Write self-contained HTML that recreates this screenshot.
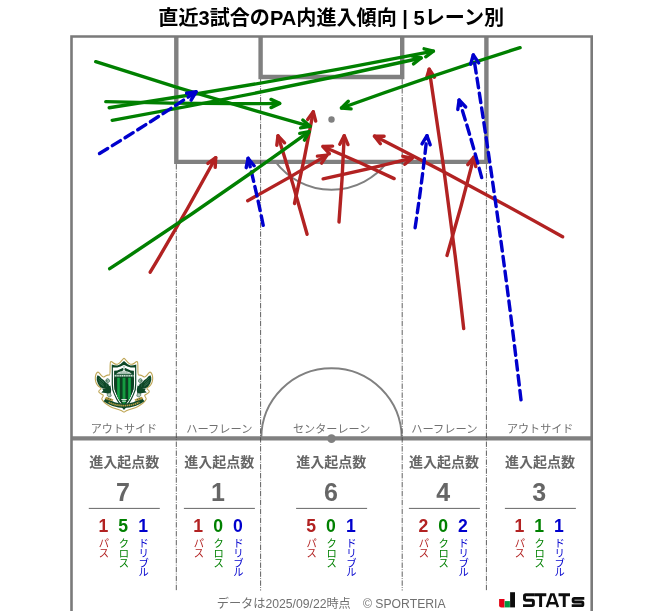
<!DOCTYPE html>
<html lang="ja"><head><meta charset="utf-8"><title>直近3試合のPA内進入傾向 | 5レーン別</title>
<style>
html,body{margin:0;padding:0;background:#fff;}
body{width:663px;height:611px;overflow:hidden;font-family:"Liberation Sans","Noto Sans CJK JP",sans-serif;}
svg{display:block}
svg text{font-family:"Liberation Sans","Noto Sans CJK JP",sans-serif;}
</style></head><body>
<svg width="663" height="611" viewBox="0 0 663 611">
<defs>
<filter id="soft" x="0" y="0" width="100%" height="100%" filterUnits="userSpaceOnUse"><feGaussianBlur stdDeviation="0.55"/></filter>
</defs>
<g filter="url(#soft)">
<rect width="663" height="611" fill="#fff"/>
<g fill="none" stroke="#808080" stroke-width="1.9">
<path d="M275.55,161.9 A70.2,70.2 0 0 0 387.45,161.9"/>
<path d="M261.30,438.4 A70.2,70.2 0 0 1 401.70,438.4"/>
</g>
<g fill="none" stroke="#808080" stroke-width="4.4" stroke-linejoin="miter">
<path d="M176.3,36.5 V161.9 H486.4 V36.5"/>
<path d="M260.6,36.5 V77.0 H402.2 V36.5"/>
<path d="M71.5,438.4 H591.7"/>
</g>
<path d="M71.5,616 V36.5 H591.7 V616" fill="none" stroke="#7a7a7a" stroke-width="2.6" stroke-linejoin="miter"/>
<circle cx="331.5" cy="119.5" r="3.2" fill="#808080"/>
<circle cx="331.5" cy="438.59999999999997" r="4.3" fill="#808080"/>
<g stroke="#444" stroke-width="0.85" stroke-dasharray="5.4 1.35 0.85 1.35" fill="none">
<path d="M176.3,164.1 V590.5"/>
<path d="M260.6,79.2 V590.5"/>
<path d="M402.2,79.2 V590.5"/>
<path d="M486.4,164.1 V590.5"/>
</g>
<g stroke="#b22222" stroke-width="3.4" fill="none" stroke-linecap="round" stroke-linejoin="round"><path d="M150.2,272.2 Q184.2,215.7 215.7,157.7"/><path d="M215.2,167.3 L215.7,157.7 L207.9,163.4"/></g>
<g stroke="#b22222" stroke-width="3.4" fill="none" stroke-linecap="round" stroke-linejoin="round"><path d="M247.7,200.7 Q287.9,178.8 327.0,155.1"/><path d="M321.6,163.1 L327.0,155.1 L317.4,156.1"/></g>
<g stroke="#b22222" stroke-width="3.4" fill="none" stroke-linecap="round" stroke-linejoin="round"><path d="M294.5,203.5 Q304.9,157.9 313.3,111.8"/><path d="M315.7,121.1 L313.3,111.8 L307.7,119.6"/></g>
<g stroke="#b22222" stroke-width="3.4" fill="none" stroke-linecap="round" stroke-linejoin="round"><path d="M307.1,234.3 Q293.6,184.7 278.0,135.8"/><path d="M284.6,142.8 L278.0,135.8 L276.8,145.3"/></g>
<g stroke="#b22222" stroke-width="3.4" fill="none" stroke-linecap="round" stroke-linejoin="round"><path d="M323.1,178.8 Q367.9,169.5 412.2,158.2"/><path d="M404.8,164.3 L412.2,158.2 L402.8,156.3"/></g>
<g stroke="#b22222" stroke-width="3.4" fill="none" stroke-linecap="round" stroke-linejoin="round"><path d="M339.0,222.0 Q342.5,178.9 344.2,135.7"/><path d="M348.0,144.6 L344.2,135.7 L339.8,144.2"/></g>
<g stroke="#b22222" stroke-width="3.4" fill="none" stroke-linecap="round" stroke-linejoin="round"><path d="M394.2,178.6 Q359.0,161.8 323.0,146.5"/><path d="M332.6,146.1 L323.0,146.5 L329.4,153.7"/></g>
<g stroke="#b22222" stroke-width="3.4" fill="none" stroke-linecap="round" stroke-linejoin="round"><path d="M463.7,328.6 Q449.3,198.5 429.2,69.2"/><path d="M434.5,77.2 L429.2,69.2 L426.4,78.4"/></g>
<g stroke="#b22222" stroke-width="3.4" fill="none" stroke-linecap="round" stroke-linejoin="round"><path d="M447.0,255.4 Q461.5,206.6 473.9,157.2"/><path d="M475.8,166.6 L473.9,157.2 L467.8,164.6"/></g>
<g stroke="#b22222" stroke-width="3.4" fill="none" stroke-linecap="round" stroke-linejoin="round"><path d="M562.6,236.8 Q469.7,184.4 374.5,136.1"/><path d="M384.1,136.3 L374.5,136.1 L380.4,143.7"/></g>
<g stroke="#0000cd" stroke-width="3.4" fill="none" stroke-linecap="round" stroke-linejoin="round"><path d="M263.2,225.3 Q256.4,191.6 248.1,158.3" stroke-dasharray="9.6 5.4"/><path d="M254.1,165.7 L248.1,158.3 L246.2,167.7"/></g>
<g stroke="#008000" stroke-width="3.4" fill="none" stroke-linecap="round" stroke-linejoin="round"><path d="M95.7,61.7 Q202.2,96.4 310.1,126.3"/><path d="M300.6,127.9 L310.1,126.3 L302.8,120.0"/></g>
<g stroke="#008000" stroke-width="3.4" fill="none" stroke-linecap="round" stroke-linejoin="round"><path d="M105.8,101.6 Q192.7,104.4 279.7,103.4"/><path d="M271.0,107.6 L279.7,103.4 L271.0,99.4"/></g>
<g stroke="#008000" stroke-width="3.4" fill="none" stroke-linecap="round" stroke-linejoin="round"><path d="M109.2,107.8 Q271.9,83.0 433.4,51.1"/><path d="M425.7,56.8 L433.4,51.1 L424.1,48.8"/></g>
<g stroke="#008000" stroke-width="3.4" fill="none" stroke-linecap="round" stroke-linejoin="round"><path d="M112.2,120.3 Q267.3,92.5 421.1,58.0"/><path d="M413.5,63.9 L421.1,58.0 L411.7,55.9"/></g>
<g stroke="#008000" stroke-width="3.4" fill="none" stroke-linecap="round" stroke-linejoin="round"><path d="M109.7,268.7 Q210.9,202.4 309.1,131.7"/><path d="M304.4,140.1 L309.1,131.7 L299.7,133.4"/></g>
<g stroke="#008000" stroke-width="3.4" fill="none" stroke-linecap="round" stroke-linejoin="round"><path d="M520.1,47.7 Q430.1,75.9 341.5,108.0"/><path d="M348.3,101.2 L341.5,108.0 L351.1,108.9"/></g>
<g stroke="#0000cd" stroke-width="3.4" fill="none" stroke-linecap="round" stroke-linejoin="round"><path d="M99.5,153.5 Q148.5,123.7 196.1,91.8" stroke-dasharray="9.6 5.4"/><path d="M191.1,100.1 L196.1,91.8 L186.6,93.3"/></g>
<g stroke="#0000cd" stroke-width="3.4" fill="none" stroke-linecap="round" stroke-linejoin="round"><path d="M415.1,227.7 Q422.1,181.8 427.0,135.7" stroke-dasharray="9.6 5.4"/><path d="M430.2,144.8 L427.0,135.7 L422.0,143.9"/></g>
<g stroke="#0000cd" stroke-width="3.4" fill="none" stroke-linecap="round" stroke-linejoin="round"><path d="M481.7,177.6 Q471.3,138.6 459.1,100.0" stroke-dasharray="9.6 5.4"/><path d="M465.7,107.0 L459.1,100.0 L457.8,109.5"/></g>
<g stroke="#0000cd" stroke-width="3.4" fill="none" stroke-linecap="round" stroke-linejoin="round"><path d="M521.0,399.9 Q500.9,226.9 473.3,55.0" stroke-dasharray="9.6 5.4"/><path d="M478.7,62.9 L473.3,55.0 L470.6,64.2"/></g>
<text x="158.3" y="25.0" font-size="20.06" font-weight="bold" fill="#000" textLength="345.8" lengthAdjust="spacingAndGlyphs">直近3試合のPA内進入傾向 | 5レーン別</text>
<text x="90.8" y="432.6" font-size="11.05" fill="#707070" textLength="66.3" lengthAdjust="spacingAndGlyphs">アウトサイド</text>
<text x="89.2" y="467.2" font-size="14" font-weight="bold" fill="#666" textLength="70.0" lengthAdjust="spacingAndGlyphs">進入起点数</text>
<text x="116.1" y="500.5" font-size="25" font-weight="bold" fill="#666">7</text>
<path d="M88.8,508.4 H159.8" stroke="#555" stroke-width="0.9"/>
<text x="98.5" y="532.3" font-size="17.6" font-weight="bold" fill="#b22222">1</text>
<text font-size="10.3" text-anchor="middle" fill="#b22222"><tspan x="103.95" y="547">パ</tspan><tspan x="103.95" y="556.75">ス</tspan></text>
<text x="118.3" y="532.3" font-size="17.6" font-weight="bold" fill="#008000">5</text>
<text font-size="10.3" text-anchor="middle" fill="#008000"><tspan x="123.8" y="547">ク</tspan><tspan x="123.8" y="556.75">ロ</tspan><tspan x="123.8" y="566.5">ス</tspan></text>
<text x="138.2" y="532.3" font-size="17.6" font-weight="bold" fill="#0000cd">1</text>
<text font-size="10.3" text-anchor="middle" fill="#0000cd"><tspan x="143.65" y="547">ド</tspan><tspan x="143.65" y="556.75">リ</tspan><tspan x="143.65" y="566.5">ブ</tspan><tspan x="143.65" y="576.25">ル</tspan></text>
<text x="186.2" y="432.6" font-size="11.05" fill="#707070" textLength="66.3" lengthAdjust="spacingAndGlyphs">ハーフレーン</text>
<text x="184.2" y="467.2" font-size="14" font-weight="bold" fill="#666" textLength="70.0" lengthAdjust="spacingAndGlyphs">進入起点数</text>
<text x="211.0" y="500.5" font-size="25" font-weight="bold" fill="#666">1</text>
<path d="M183.9,508.4 H254.9" stroke="#555" stroke-width="0.9"/>
<text x="193.3" y="532.3" font-size="17.6" font-weight="bold" fill="#b22222">1</text>
<text font-size="10.3" text-anchor="middle" fill="#b22222"><tspan x="198.8" y="547">パ</tspan><tspan x="198.8" y="556.75">ス</tspan></text>
<text x="213.2" y="532.3" font-size="17.6" font-weight="bold" fill="#008000">0</text>
<text font-size="10.3" text-anchor="middle" fill="#008000"><tspan x="218.65" y="547">ク</tspan><tspan x="218.65" y="556.75">ロ</tspan><tspan x="218.65" y="566.5">ス</tspan></text>
<text x="233.0" y="532.3" font-size="17.6" font-weight="bold" fill="#0000cd">0</text>
<text font-size="10.3" text-anchor="middle" fill="#0000cd"><tspan x="238.5" y="547">ド</tspan><tspan x="238.5" y="556.75">リ</tspan><tspan x="238.5" y="566.5">ブ</tspan><tspan x="238.5" y="576.25">ル</tspan></text>
<text x="293.0" y="432.6" font-size="11.05" fill="#707070" textLength="77.3" lengthAdjust="spacingAndGlyphs">センターレーン</text>
<text x="296.2" y="467.2" font-size="14" font-weight="bold" fill="#666" textLength="70.0" lengthAdjust="spacingAndGlyphs">進入起点数</text>
<text x="323.9" y="500.5" font-size="25" font-weight="bold" fill="#666">6</text>
<path d="M296.1,508.4 H367.1" stroke="#555" stroke-width="0.9"/>
<text x="306.3" y="532.3" font-size="17.6" font-weight="bold" fill="#b22222">5</text>
<text font-size="10.3" text-anchor="middle" fill="#b22222"><tspan x="311.75" y="547">パ</tspan><tspan x="311.75" y="556.75">ス</tspan></text>
<text x="326.1" y="532.3" font-size="17.6" font-weight="bold" fill="#008000">0</text>
<text font-size="10.3" text-anchor="middle" fill="#008000"><tspan x="331.6" y="547">ク</tspan><tspan x="331.6" y="556.75">ロ</tspan><tspan x="331.6" y="566.5">ス</tspan></text>
<text x="346.0" y="532.3" font-size="17.6" font-weight="bold" fill="#0000cd">1</text>
<text font-size="10.3" text-anchor="middle" fill="#0000cd"><tspan x="351.45" y="547">ド</tspan><tspan x="351.45" y="556.75">リ</tspan><tspan x="351.45" y="566.5">ブ</tspan><tspan x="351.45" y="576.25">ル</tspan></text>
<text x="411.2" y="432.6" font-size="11.05" fill="#707070" textLength="66.3" lengthAdjust="spacingAndGlyphs">ハーフレーン</text>
<text x="408.9" y="467.2" font-size="14" font-weight="bold" fill="#666" textLength="70.0" lengthAdjust="spacingAndGlyphs">進入起点数</text>
<text x="436.2" y="500.5" font-size="25" font-weight="bold" fill="#666">4</text>
<path d="M408.9,508.4 H479.9" stroke="#555" stroke-width="0.9"/>
<text x="418.4" y="532.3" font-size="17.6" font-weight="bold" fill="#b22222">2</text>
<text font-size="10.3" text-anchor="middle" fill="#b22222"><tspan x="423.85" y="547">パ</tspan><tspan x="423.85" y="556.75">ス</tspan></text>
<text x="438.2" y="532.3" font-size="17.6" font-weight="bold" fill="#008000">0</text>
<text font-size="10.3" text-anchor="middle" fill="#008000"><tspan x="443.7" y="547">ク</tspan><tspan x="443.7" y="556.75">ロ</tspan><tspan x="443.7" y="566.5">ス</tspan></text>
<text x="458.1" y="532.3" font-size="17.6" font-weight="bold" fill="#0000cd">2</text>
<text font-size="10.3" text-anchor="middle" fill="#0000cd"><tspan x="463.55" y="547">ド</tspan><tspan x="463.55" y="556.75">リ</tspan><tspan x="463.55" y="566.5">ブ</tspan><tspan x="463.55" y="576.25">ル</tspan></text>
<text x="507.0" y="432.6" font-size="11.05" fill="#707070" textLength="66.3" lengthAdjust="spacingAndGlyphs">アウトサイド</text>
<text x="505.0" y="467.2" font-size="14" font-weight="bold" fill="#666" textLength="70.0" lengthAdjust="spacingAndGlyphs">進入起点数</text>
<text x="532.2" y="500.5" font-size="25" font-weight="bold" fill="#666">3</text>
<path d="M504.9,508.4 H575.9" stroke="#555" stroke-width="0.9"/>
<text x="514.4" y="532.3" font-size="17.6" font-weight="bold" fill="#b22222">1</text>
<text font-size="10.3" text-anchor="middle" fill="#b22222"><tspan x="519.85" y="547">パ</tspan><tspan x="519.85" y="556.75">ス</tspan></text>
<text x="534.2" y="532.3" font-size="17.6" font-weight="bold" fill="#008000">1</text>
<text font-size="10.3" text-anchor="middle" fill="#008000"><tspan x="539.7" y="547">ク</tspan><tspan x="539.7" y="556.75">ロ</tspan><tspan x="539.7" y="566.5">ス</tspan></text>
<text x="554.1" y="532.3" font-size="17.6" font-weight="bold" fill="#0000cd">1</text>
<text font-size="10.3" text-anchor="middle" fill="#0000cd"><tspan x="559.55" y="547">ド</tspan><tspan x="559.55" y="556.75">リ</tspan><tspan x="559.55" y="566.5">ブ</tspan><tspan x="559.55" y="576.25">ル</tspan></text>
<text x="216.7" y="608.2" font-size="12.3" fill="#707070" textLength="228.9" lengthAdjust="spacingAndGlyphs">データは2025/09/22時点　© SPORTERIA</text>
<g id="jstats">
<path d="M499.1,598.9 H504.5 V607.4 H501.3 Q499.1,607.4 499.1,605.2 Z" fill="#e30613"/>
<rect x="504.7" y="601.1" width="5.2" height="6.3" fill="#00963f"/>
<rect x="510.1" y="592.2" width="4.9" height="15.2" fill="#111"/>
<g fill="none" stroke="#111" stroke-linejoin="miter">
<path d="M534.88,594.70 H525.80 Q524.50,594.70 524.50,596.00 V598.85 Q524.50,600.15 525.80,600.15 H532.10 Q533.40,600.15 533.40,601.45 V604.30 Q533.40,605.60 532.10,605.60 H523.02" stroke-width="2.95"/>
<path d="M534.9,594.8 H546.3 M540.6,594.8 V607.1" stroke-width="2.95"/>
<path d="M546.9,607.1 L551.2,594.6 H553.6 L557.9,607.1 M549.0,603.3 H555.8" stroke-width="2.5"/>
<path d="M558.5,594.8 H570.0 M564.25,594.8 V607.1" stroke-width="2.95"/>
<path d="M584.30,598.30 H574.30 Q573.10,598.30 573.10,599.50 V600.80 Q573.10,602.00 574.30,602.00 H581.70 Q582.90,602.00 582.90,603.20 V604.50 Q582.90,605.70 581.70,605.70 H571.70" stroke-width="2.8"/>
</g></g>
<g id="emblem"><path d="M124.80,358.80 Q125.60,359.60 126.60,360.90 Q127.60,362.20 128.70,363.10 Q129.80,364.00 130.70,364.20 Q131.60,364.40 132.60,364.10 Q133.60,363.80 134.60,363.00 Q135.60,362.20 136.30,361.70 Q137.00,361.20 137.45,361.80 Q137.90,362.40 137.90,368.65 Q137.90,374.90 138.65,375.00 Q139.40,375.10 140.30,375.15 Q141.20,375.20 142.05,375.70 Q142.90,376.20 143.70,376.75 Q144.50,377.30 145.35,376.65 Q146.20,376.00 147.20,374.80 Q148.20,373.60 149.10,372.70 Q150.00,371.80 150.80,372.50 Q151.60,373.20 152.15,374.80 Q152.70,376.40 152.70,378.20 Q152.70,380.00 152.25,381.70 Q151.80,383.40 150.70,384.80 Q149.60,386.20 147.90,387.40 Q146.20,388.60 147.50,389.40 Q148.80,390.20 149.10,390.90 Q149.40,391.60 149.00,392.25 Q148.60,392.90 147.10,393.65 Q145.60,394.40 144.95,395.00 Q144.30,395.60 145.35,397.00 Q146.40,398.40 146.20,399.20 Q146.00,400.00 144.50,401.50 Q143.00,403.00 141.30,404.30 Q139.60,405.60 137.50,406.65 Q135.40,407.70 132.90,408.50 Q130.40,409.30 128.20,409.95 Q126.00,410.60 125.00,411.55 Q124.00,412.50 123.00,411.55 Q122.00,410.60 119.80,409.95 Q117.60,409.30 115.10,408.50 Q112.60,407.70 110.50,406.65 Q108.40,405.60 106.70,404.30 Q105.00,403.00 103.50,401.50 Q102.00,400.00 101.80,399.20 Q101.60,398.40 102.65,397.00 Q103.70,395.60 103.05,395.00 Q102.40,394.40 100.90,393.65 Q99.40,392.90 99.00,392.25 Q98.60,391.60 98.90,390.90 Q99.20,390.20 100.50,389.40 Q101.80,388.60 100.10,387.40 Q98.40,386.20 97.30,384.80 Q96.20,383.40 95.75,381.70 Q95.30,380.00 95.30,378.20 Q95.30,376.40 95.85,374.80 Q96.40,373.20 97.20,372.50 Q98.00,371.80 98.90,372.70 Q99.80,373.60 100.80,374.80 Q101.80,376.00 102.65,376.65 Q103.50,377.30 104.30,376.75 Q105.10,376.20 105.95,375.70 Q106.80,375.20 107.70,375.15 Q108.60,375.10 109.35,375.00 Q110.10,374.90 110.10,368.65 Q110.10,362.40 110.55,361.80 Q111.00,361.20 111.70,361.70 Q112.40,362.20 113.40,363.00 Q114.40,363.80 115.40,364.10 Q116.40,364.40 117.30,364.20 Q118.20,364.00 119.30,363.10 Q120.40,362.20 121.40,360.90 Q122.40,359.60 123.20,358.80 Q124.00,358.00 124.80,358.80 Z" fill="#fff" stroke="#bfa655" stroke-width="1.1" stroke-linejoin="round"/>
<path d="M97.57,375.19 L99.52,376.30 L101.47,378.53 L103.97,380.20 L105.92,382.43 L107.03,384.93 L105.92,388.38 L102.69,388.38 L100.02,386.71 L97.90,383.82 L96.68,379.92 L96.79,377.02 Z" fill="#0d4728"/>
<path d="M150.43,375.19 L148.48,376.30 L146.53,378.53 L144.03,380.20 L142.08,382.43 L140.97,384.93 L142.08,388.38 L145.31,388.38 L147.98,386.71 L150.10,383.82 L151.32,379.92 L151.21,377.02 Z" fill="#0d4728"/>
<path d="M105.64,382.70 L108.26,383.71 L110.49,385.82 L111.15,389.39 L110.93,392.84 L108.26,393.67 L105.36,392.95 L101.24,392.39 L103.30,390.61 L102.36,389.05 L105.36,388.27 L106.76,385.21 Z" fill="#0d4728"/>
<path d="M142.36,382.70 L139.74,383.71 L137.51,385.82 L136.85,389.39 L137.07,392.84 L139.74,393.67 L142.64,392.95 L146.76,392.39 L144.70,390.61 L145.64,389.05 L142.64,388.27 L141.24,385.21 Z" fill="#0d4728"/>
<path d="M105.70,380.59 L106.25,379.25 L107.37,378.58 L108.70,379.03 L109.48,380.25 L109.37,381.92 L108.37,382.82 L106.81,382.48 L105.92,381.70 Z" fill="#9dbba8" stroke="#0d4728" stroke-width="0.5"/>
<path d="M142.30,380.59 L141.75,379.25 L140.63,378.58 L139.30,379.03 L138.52,380.25 L138.63,381.92 L139.63,382.82 L141.19,382.48 L142.08,381.70 Z" fill="#9dbba8" stroke="#0d4728" stroke-width="0.5"/>
<path d="M106.20,380.59 L107.14,380.25 L107.59,381.14 L106.59,381.59 Z" fill="#0d4728"/>
<path d="M141.80,380.59 L140.86,380.25 L140.41,381.14 L141.41,381.59 Z" fill="#0d4728"/>
<path d="M108.15,383.26 L109.93,384.60 L110.21,386.16 L108.93,385.49 Z" fill="#eef3ef"/>
<path d="M139.85,383.26 L138.07,384.60 L137.79,386.16 L139.07,385.49 Z" fill="#eef3ef"/>
<path d="M107.48,393.39 L110.37,392.84 L111.27,396.07 L108.93,397.07 L107.14,395.40 Z" fill="#b5c9bb" stroke="#0d4728" stroke-width="0.5"/>
<path d="M140.52,393.39 L137.63,392.84 L136.73,396.07 L139.07,397.07 L140.86,395.40 Z" fill="#b5c9bb" stroke="#0d4728" stroke-width="0.5"/>
<path d="M98.96,377.97 L103.97,382.70" stroke="#4f8a68" stroke-width="0.55" fill="none"/>
<path d="M149.04,377.97 L144.03,382.70" stroke="#4f8a68" stroke-width="0.55" fill="none"/>
<path d="M98.40,379.92 L103.41,384.65" stroke="#4f8a68" stroke-width="0.55" fill="none"/>
<path d="M149.60,379.92 L144.59,384.65" stroke="#4f8a68" stroke-width="0.55" fill="none"/>
<path d="M99.24,382.70 L103.97,386.32" stroke="#4f8a68" stroke-width="0.55" fill="none"/>
<path d="M148.76,382.70 L144.03,386.32" stroke="#4f8a68" stroke-width="0.55" fill="none"/>
<path d="M124.00,360.90 L125.50,362.20 L127.40,363.90 L129.20,364.90 L130.80,365.40 L133.50,365.30 L136.25,364.60 L136.30,384.00 L135.80,390.00 L134.10,394.30 L131.70,399.40 L128.60,404.60 L124.00,410.00 L119.40,404.60 L116.30,399.40 L113.90,394.30 L112.20,390.00 L111.70,384.00 L111.75,364.60 L114.50,365.30 L117.20,365.40 L118.80,364.90 L120.60,363.90 L122.50,362.20 Z" fill="#0d4728"/>
<path d="M124.00,364.90 L125.40,365.40 L127.40,366.40 L130.80,367.50 L135.10,367.60 L135.10,384.00 L134.60,389.70 L133.00,393.90 L130.60,399.00 L127.70,403.60 L124.00,408.00 L120.30,403.60 L117.40,399.00 L115.00,393.90 L113.40,389.70 L112.90,384.00 L112.90,367.60 L117.20,367.50 L120.60,366.40 L122.60,365.40 Z" fill="#fff"/>
<path d="M124.00,367.90 L125.40,368.10 L127.40,369.00 L130.80,370.40 L133.90,370.70 L133.90,384.00 L133.40,389.40 L131.90,393.40 L129.60,398.40 L126.90,402.80 L124.00,406.40 L121.10,402.80 L118.40,398.40 L116.10,393.40 L114.60,389.40 L114.10,384.00 L114.10,370.70 L117.20,370.40 L120.60,369.00 L122.60,368.10 Z" fill="#0d4728"/>
<path d="M124,365.3 L125.2,366.6 L124.7,369.3 L123.3,369.3 L122.8,366.6 Z" fill="#e4ebe6"/>
<path d="M123.3,366.6 H124.7 M123.5,368.0 H124.5" stroke="#6f9a82" stroke-width="0.5"/>
<path d="M115.0,374.2 L116.8,373.7 L117.9,372.6 L120.4,371.4 L122.6,370.9 L123.2,369.6 H124.8 L125.4,370.9 L127.6,371.4 L130.1,372.6 L131.2,373.7 L133.0,374.2 Z" fill="#e3ebe6"/>
<path d="M119.6,372.15 H128.4 M117.4,373.55 H130.6" stroke="#5f8c74" stroke-width="0.5"/>
<path d="M121.6,371.2 V373.4 M124,370.4 V373.4 M126.4,371.2 V373.4" stroke="#7fa590" stroke-width="0.4"/>
<rect x="114.3" y="374.4" width="19.4" height="2.7" fill="#2b6446"/>
<path d="M114.7,375.75 H133.5" stroke="#d5e3da" stroke-width="1.7" stroke-dasharray="1.25 0.55"/>
<clipPath id="shc"><path d="M124.00,367.90 L125.40,368.10 L127.40,369.00 L130.80,370.40 L133.90,370.70 L133.90,384.00 L133.40,389.40 L131.90,393.40 L129.60,398.40 L126.90,402.80 L124.00,406.40 L121.10,402.80 L118.40,398.40 L116.10,393.40 L114.60,389.40 L114.10,384.00 L114.10,370.70 L117.20,370.40 L120.60,369.00 L122.60,368.10 Z"/></clipPath>
<g clip-path="url(#shc)">
<rect x="113" y="377.8" width="22" height="34" fill="#0a3f22"/>
<rect x="117.00" y="377.8" width="3.0" height="34" fill="#11923b"/>
<rect x="118.00" y="377.8" width="1.0" height="34" fill="#18a246"/>
<rect x="122.50" y="377.8" width="3.0" height="34" fill="#11923b"/>
<rect x="123.50" y="377.8" width="1.0" height="34" fill="#18a246"/>
<rect x="128.00" y="377.8" width="3.0" height="34" fill="#11923b"/>
<rect x="129.00" y="377.8" width="1.0" height="34" fill="#18a246"/>
</g>
<rect x="121.3" y="399.0" width="5.4" height="1.0" fill="#dfe9e2"/>
<rect x="121.9" y="400.7" width="4.2" height="1.0" fill="#dfe9e2"/>
<path d="M104.9,399.5 Q113.5,405.8 124,405.8 Q134.5,405.8 143.1,399.5" fill="none" stroke="#0d4728" stroke-width="4.5" stroke-linecap="butt"/>
<path d="M108.6,402.2 Q115.5,405.6 124,405.6 Q132.5,405.6 139.4,402.2" fill="none" stroke="#b39a40" stroke-width="1.7" stroke-dasharray="1.5 0.55"/>
<path d="M143.40,398.60 L141.60,396.80 L134.50,399.40 L135.50,400.90 L140.60,399.90 Z" fill="#b39a40"/>
<path d="M104.60,398.60 L106.40,396.80 L113.50,399.40 L112.50,400.90 L107.40,399.90 Z" fill="#b39a40"/>
<path d="M139.40,397.90 L140.20,399.60" stroke="#0d4728" stroke-width="0.6" fill="none"/>
<path d="M108.60,397.90 L107.80,399.60" stroke="#0d4728" stroke-width="0.6" fill="none"/>
<path d="M137.20,398.80 L137.80,400.20" stroke="#0d4728" stroke-width="0.6" fill="none"/>
<path d="M110.80,398.80 L110.20,400.20" stroke="#0d4728" stroke-width="0.6" fill="none"/></g>
</g>
</svg>
</body></html>
